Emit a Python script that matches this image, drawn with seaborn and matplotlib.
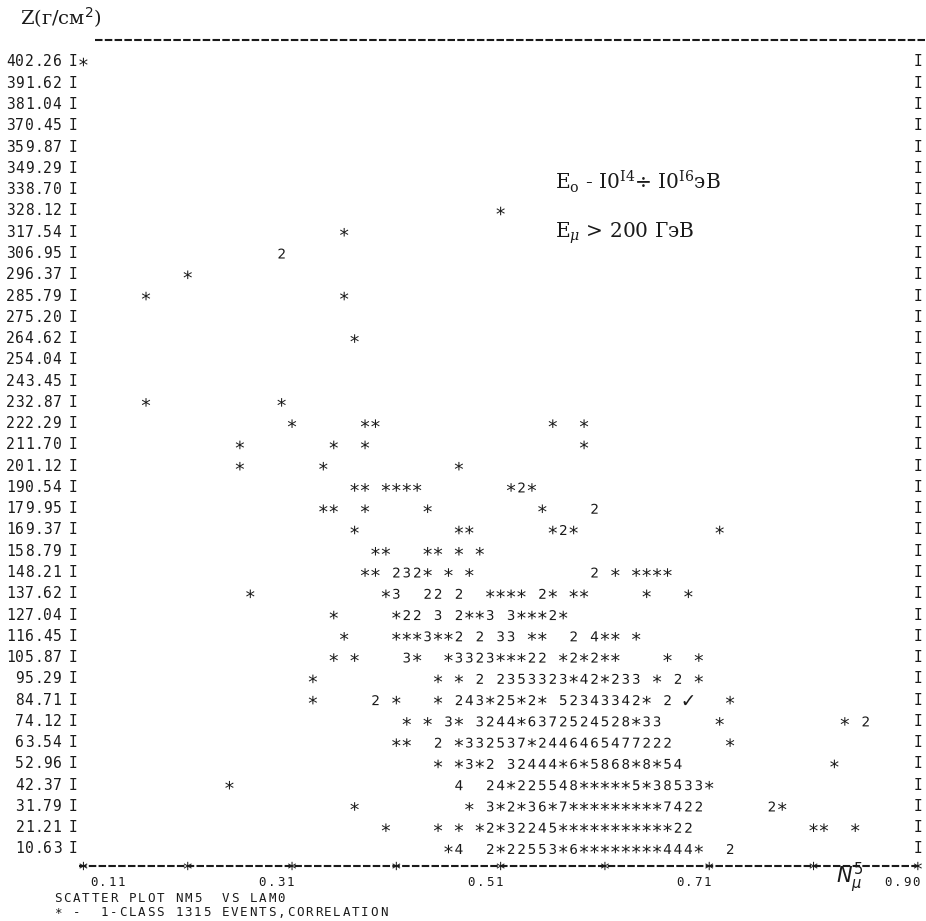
import numpy as np
import pandas as pd
import seaborn as sns
import matplotlib.pyplot as plt

# Z values printed down the left margin (g/cm^2), top to bottom
z_labels = ["402.26", "391.62", "381.04", "370.45", "359.87", "349.29", "338.70",
            "328.12", "317.54", "306.95", "296.37", "285.79", "275.20", "264.62",
            "254.04", "243.45", "232.87", "222.29", "211.70", "201.12", "190.54",
            "179.95", "169.37", "158.79", "148.21", "137.62", "127.04", "116.45",
            "105.87", "95.29", "84.71", "74.12", "63.54", "52.96", "42.37",
            "31.79", "21.21", "10.63"]

# what the line printer put on each row: (printer column, characters)
row_marks = {
    "402.26": [(1, "*")],
    "328.12": [(41, "*")],
    "317.54": [(26, "*")],
    "306.95": [(20, "2")],
    "296.37": [(11, "*")],
    "285.79": [(7, "*"), (26, "*")],
    "264.62": [(27, "*")],
    "232.87": [(7, "*"), (20, "*")],
    "222.29": [(21, "*"), (28, "**"), (46, "*"), (49, "*")],
    "211.70": [(16, "*"), (25, "*"), (28, "*"), (49, "*")],
    "201.12": [(16, "*"), (24, "*"), (37, "*")],
    "190.54": [(27, "** ****"), (42, "*2*")],
    "179.95": [(24, "**"), (28, "*"), (34, "*"), (45, "*"), (50, "2")],
    "169.37": [(27, "*"), (37, "**"), (46, "*2*"), (62, "*")],
    "158.79": [(29, "**"), (34, "**"), (37, "*"), (39, "*")],
    "148.21": [(28, "** 232* * *"), (50, "2"), (52, "*"), (54, "****")],
    "137.62": [(17, "*"), (30, "*3"), (34, "22 2"), (40, "****"), (45, "2* **"), (55, "*"), (59, "*")],
    "127.04": [(25, "*"), (31, "*22 3 2**3 3***2*")],
    "116.45": [(26, "*"), (31, "***3**2 2 33 **  2 4** *")],
    "105.87": [(25, "* *"), (32, "3*"), (36, "*3323***22 *2*2**"), (57, "*"), (60, "*")],
    "95.29": [(23, "*"), (35, "* *"), (39, "2"), (41, "2353323*42*233"), (56, "* 2 *")],
    "84.71": [(23, "*"), (29, "2 *"), (35, "* 243*25*2* 52343342* 2 ✓"), (63, "*")],
    "74.12": [(32, "* * 3* 3244*6372524528*33"), (62, "*"), (74, "*"), (76, "2")],
    "63.54": [(31, "**"), (35, "2 *332537*2446465477222"), (63, "*")],
    "52.96": [(35, "* *3*2 32444*6*5868*8*54"), (73, "*")],
    "42.37": [(15, "*"), (37, "4  24*225548*****5*38533*")],
    "31.79": [(27, "*"), (38, "* 3*2*36*7*********7422"), (67, "2*")],
    "21.21": [(30, "*"), (35, "* * *2*32245***********22"), (71, "**"), (75, "*")],
    "10.63": [(36, "*4"), (40, "2*22553*6********444*"), (63, "2")],
}

# x axis of the printout
x_first, x_last, n_cols = 0.11, 0.90, 80
x_ticks = [0.11, 0.31, 0.51, 0.71, 0.90]
x_tick_labels = ["0.11", "0.31", "0.51", "0.71", "0.90"]

title_lines = ["SCATTER PLOT NM5  VS LAM0",
               "* -  1-CLASS 1315 EVENTS,CORRELATION"]

# page geometry of the printout (pixels)
W, H = 926, 921
X0, PITCH = 73, 10.43      # frame column 0, width of one printer column
Y0, LEAD = 62, 21.27       # first printed row, height of one printer line
TXT = 9.3                  # pitch of the printed captions

step = (x_last - x_first) / n_cols
z_top, z_bot = float(z_labels[0]), float(z_labels[-1])
zstep = (z_top - z_bot) / (len(z_labels) - 1)


def col2x(c):
    return x_first + (c - 1) * step


def px2x(px):
    return col2x((px - X0) / PITCH)


def py2z(py):
    return z_top - (py - Y0) / LEAD * zstep


recs = []
for lab in z_labels:
    for col, run in row_marks.get(lab, []):
        for i, ch in enumerate(run):
            if ch != " ":
                recs.append({"x": col2x(col + i), "z": float(lab), "ch": ch,
                             "kind": "star" if ch == "*" else "digit"})
df = pd.DataFrame(recs)

sns.set_theme(style="white")
plt.rcParams["font.family"] = ["DejaVu Sans Mono", "DejaVu Sans"]
ink = "#1a1a1a"
mono = ["DejaVu Sans Mono", "DejaVu Sans"]

fig = plt.figure(figsize=(W / 100, H / 100), dpi=100)
ax = fig.add_axes([0, 0, 1, 1])
ax.set_xlim(px2x(0), px2x(W))
ax.set_ylim(py2z(H), py2z(0))
ax.axis("off")


def glyph(ch):
    return r"$\checkmark$" if ch == "✓" else f"${ch}$"


sns.scatterplot(data=df, x="x", y="z", style="ch",
                markers={c: glyph(c) for c in df["ch"].unique()},
                size="kind", sizes={"star": 38, "digit": 52},
                color=ink, edgecolor="none", linewidth=0, legend=False, ax=ax)


def put(px_first, z, text, size=9.0, pitch=TXT):
    # one printed character after another, at the printer's pitch
    for i, ch in enumerate(text):
        if ch != " ":
            ax.text(px2x(px_first + i * pitch), z, ch, ha="center", va="center",
                    fontsize=size, family=mono, color=ink)


# row labels and the I frame
for lab in z_labels:
    z = float(lab)
    put(57 - (len(lab) - 1) * TXT, z, lab, size=10.5)
    put(X0, z, "I", size=10.5)
    put(X0 + (n_cols + 1) * PITCH, z, "I", size=10.5)

# top rule and bottom axis
z_axis = py2z(866)
dash = dict(color=ink, lw=1.5, ls=(0, (3.6, 1.1)))
ax.plot([px2x(95), px2x(W)], [py2z(40)] * 2, **dash)
ax.plot([col2x(0.6), col2x(n_cols + 1.2)], [z_axis] * 2, **dash)
ticks = pd.DataFrame({"x": [col2x(c) for c in range(1, n_cols + 2, 10)]})
ticks["z"] = z_axis
sns.scatterplot(data=ticks, x="x", y="z", marker="$*$", s=36, color=ink,
                edgecolor="none", linewidth=0, legend=False, ax=ax)

# tick labels under every other tick
z_tl = py2z(882)
for v, lab in zip(x_ticks, x_tick_labels):
    tc = 1 + 10 * round((v - x_first) / step / 10)
    if v == x_ticks[0]:
        start = X0 + 2 * PITCH
    else:
        start = X0 + (tc - 1.5) * PITCH - 1.5 * TXT
    put(start, z_tl, lab)

put(58, py2z(898), title_lines[0])
put(58, py2z(913), title_lines[1])

# hand / typewriter annotations
ax.text(px2x(20), py2z(18), "Z(г/см$^2$)", fontsize=14, family="DejaVu Serif",
        color=ink, ha="left", va="center")
ax.text(px2x(836), py2z(878), r"$N_{\mu}^{5}$", fontsize=15,
        family="DejaVu Sans", color=ink, ha="left", va="center")
plt.rcParams["mathtext.fontset"] = "dejavuserif"
ax.text(px2x(555), py2z(182), r"E$_\mathrm{o}$ - I0$^\mathrm{I4}$÷ I0$^\mathrm{I6}$эВ",
        fontsize=14.5, family="DejaVu Serif", color=ink, ha="left", va="center")
ax.text(px2x(555), py2z(233), r"E$_\mu$ > 200 ГэВ",
        fontsize=14.5, family="DejaVu Serif", color=ink, ha="left", va="center")

fig.savefig("out.png", dpi=100, facecolor="white")
